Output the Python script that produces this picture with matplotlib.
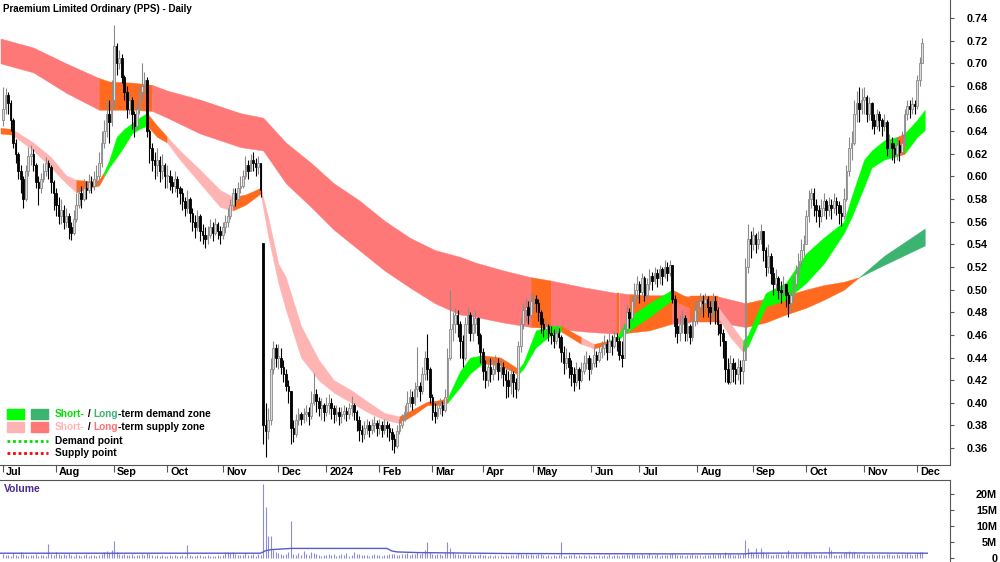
import numpy as np
import matplotlib
matplotlib.use("Agg")
import matplotlib.pyplot as plt
from matplotlib.patches import Rectangle
from matplotlib.lines import Line2D
from matplotlib.transforms import blended_transform_factory

plt.rcParams['font.family'] = ['Liberation Sans', 'DejaVu Sans']
plt.rcParams['font.weight'] = 'bold'

# month labels and number of trading days in each (Jul 2023 .. Dec 2024)
months = ['Jul', 'Aug', 'Sep', 'Oct', 'Nov', 'Dec', '2024', 'Feb', 'Mar', 'Apr',
          'May', 'Jun', 'Jul', 'Aug', 'Sep', 'Oct', 'Nov', 'Dec']
month_days = [21, 23, 21, 22, 22, 19, 21, 21, 20, 20, 23, 19, 23, 22, 21, 23, 21, 3]

# daily closes, one line per month
close = [
    0.660, 0.672, 0.665, 0.650, 0.630, 0.620, 0.605, 0.598, 0.580, 0.605, 0.618, 0.620, 0.610, 0.595, 0.590, 0.598, 0.605, 0.612, 0.608, 0.595, 0.585,
    0.575, 0.565, 0.570, 0.560, 0.565, 0.555, 0.550, 0.562, 0.575, 0.585, 0.580, 0.590, 0.588, 0.595, 0.592, 0.598, 0.600, 0.612, 0.630, 0.640, 0.655, 0.648, 0.668,
    0.715, 0.700, 0.705, 0.688, 0.675, 0.660, 0.668, 0.655, 0.645, 0.660, 0.675, 0.680, 0.685, 0.640, 0.625, 0.615, 0.610, 0.615, 0.605, 0.610, 0.600,
    0.600, 0.595, 0.592, 0.598, 0.590, 0.585, 0.578, 0.572, 0.580, 0.568, 0.560, 0.555, 0.565, 0.552, 0.548, 0.545, 0.548, 0.555, 0.550, 0.558, 0.552, 0.548,
    0.555, 0.560, 0.565, 0.575, 0.585, 0.580, 0.590, 0.592, 0.600, 0.610, 0.605, 0.615, 0.612, 0.608, 0.612, 0.588, 0.380, 0.375, 0.385, 0.430, 0.448, 0.440,
    0.440, 0.432, 0.425, 0.415, 0.410, 0.378, 0.372, 0.385, 0.390, 0.386, 0.390, 0.392, 0.388, 0.400, 0.408, 0.402, 0.395, 0.398, 0.392,
    0.398, 0.400, 0.395, 0.390, 0.392, 0.388, 0.390, 0.393, 0.390, 0.395, 0.398, 0.392, 0.385, 0.376, 0.372, 0.378, 0.380, 0.376, 0.380, 0.382, 0.378,
    0.380, 0.376, 0.380, 0.378, 0.374, 0.368, 0.362, 0.375, 0.380, 0.385, 0.392, 0.400, 0.405, 0.400, 0.412, 0.415, 0.410, 0.425, 0.440, 0.430, 0.405,
    0.392, 0.388, 0.395, 0.398, 0.394, 0.405, 0.440, 0.465, 0.470, 0.478, 0.470, 0.455, 0.440, 0.470, 0.478, 0.462, 0.470, 0.475, 0.460, 0.445,
    0.428, 0.420, 0.432, 0.425, 0.430, 0.435, 0.428, 0.432, 0.425, 0.420, 0.415, 0.425, 0.418, 0.412, 0.450, 0.470, 0.482, 0.485, 0.478, 0.490,
    0.492, 0.488, 0.480, 0.470, 0.465, 0.468, 0.462, 0.460, 0.455, 0.462, 0.458, 0.445, 0.435, 0.440, 0.432, 0.425, 0.418, 0.430, 0.420, 0.428, 0.435, 0.440, 0.430,
    0.435, 0.442, 0.438, 0.445, 0.448, 0.452, 0.445, 0.455, 0.450, 0.458, 0.455, 0.442, 0.440, 0.465, 0.480, 0.475, 0.490, 0.500, 0.505,
    0.498, 0.510, 0.495, 0.505, 0.512, 0.508, 0.515, 0.510, 0.518, 0.512, 0.520, 0.515, 0.522, 0.492, 0.468, 0.462, 0.470, 0.475, 0.462, 0.468, 0.458, 0.472, 0.482,
    0.485, 0.490, 0.488, 0.492, 0.485, 0.480, 0.490, 0.482, 0.470, 0.462, 0.455, 0.430, 0.418, 0.435, 0.430, 0.425, 0.432, 0.428, 0.438, 0.520, 0.545, 0.540,
    0.548, 0.540, 0.545, 0.552, 0.535, 0.520, 0.530, 0.515, 0.505, 0.510, 0.500, 0.498, 0.505, 0.495, 0.488, 0.495, 0.505, 0.515, 0.525, 0.535, 0.540,
    0.565, 0.580, 0.585, 0.575, 0.570, 0.565, 0.572, 0.578, 0.570, 0.575, 0.572, 0.578, 0.575, 0.568, 0.565, 0.580, 0.605, 0.625, 0.630, 0.655, 0.665, 0.660, 0.668,
    0.670, 0.655, 0.665, 0.650, 0.645, 0.655, 0.650, 0.645, 0.648, 0.625, 0.630, 0.625, 0.620, 0.628, 0.622, 0.630, 0.655, 0.662, 0.660, 0.664, 0.662,
    0.685, 0.700, 0.718,
]

high = [
    0.679, 0.678, 0.675, 0.668, 0.652, 0.633, 0.622, 0.610, 0.600, 0.610, 0.626, 0.628, 0.624, 0.612, 0.600, 0.603, 0.612, 0.617, 0.615, 0.610, 0.597,
    0.590, 0.582, 0.580, 0.575, 0.572, 0.568, 0.560, 0.570, 0.585, 0.592, 0.592, 0.598, 0.596, 0.602, 0.600, 0.605, 0.610, 0.622, 0.640, 0.650, 0.668, 0.668, 0.685,
    0.734, 0.718, 0.712, 0.708, 0.690, 0.680, 0.675, 0.670, 0.658, 0.666, 0.680, 0.700, 0.692, 0.688, 0.642, 0.630, 0.622, 0.625, 0.618, 0.620, 0.612,
    0.610, 0.606, 0.600, 0.605, 0.600, 0.592, 0.590, 0.582, 0.588, 0.582, 0.572, 0.566, 0.570, 0.567, 0.558, 0.555, 0.556, 0.562, 0.560, 0.563, 0.560, 0.556,
    0.560, 0.566, 0.572, 0.580, 0.590, 0.590, 0.595, 0.600, 0.606, 0.618, 0.615, 0.620, 0.622, 0.616, 0.618, 0.612, 0.541, 0.400, 0.395, 0.440, 0.455, 0.452,
    0.452, 0.448, 0.438, 0.430, 0.420, 0.405, 0.385, 0.390, 0.395, 0.392, 0.395, 0.398, 0.396, 0.410, 0.426, 0.412, 0.405, 0.404, 0.400,
    0.405, 0.408, 0.404, 0.398, 0.398, 0.396, 0.396, 0.398, 0.396, 0.400, 0.406, 0.400, 0.394, 0.388, 0.380, 0.384, 0.386, 0.384, 0.386, 0.388, 0.385,
    0.386, 0.384, 0.386, 0.384, 0.382, 0.378, 0.372, 0.380, 0.386, 0.390, 0.398, 0.410, 0.412, 0.410, 0.418, 0.449, 0.418, 0.432, 0.446, 0.461, 0.432,
    0.408, 0.400, 0.402, 0.404, 0.402, 0.412, 0.448, 0.500, 0.480, 0.484, 0.482, 0.472, 0.460, 0.476, 0.484, 0.480, 0.478, 0.482, 0.476, 0.462,
    0.448, 0.438, 0.440, 0.440, 0.438, 0.442, 0.440, 0.438, 0.436, 0.430, 0.428, 0.432, 0.428, 0.422, 0.455, 0.476, 0.488, 0.493, 0.490, 0.497,
    0.497, 0.495, 0.492, 0.482, 0.475, 0.474, 0.470, 0.468, 0.465, 0.468, 0.466, 0.460, 0.450, 0.448, 0.445, 0.438, 0.432, 0.436, 0.432, 0.436, 0.442, 0.446, 0.442,
    0.440, 0.448, 0.446, 0.450, 0.455, 0.460, 0.456, 0.462, 0.460, 0.463, 0.462, 0.458, 0.455, 0.470, 0.486, 0.484, 0.495, 0.506, 0.512,
    0.508, 0.515, 0.512, 0.510, 0.518, 0.516, 0.520, 0.518, 0.522, 0.520, 0.526, 0.524, 0.526, 0.522, 0.495, 0.475, 0.478, 0.482, 0.478, 0.475, 0.470, 0.478, 0.490,
    0.492, 0.497, 0.495, 0.497, 0.494, 0.490, 0.497, 0.494, 0.485, 0.470, 0.465, 0.455, 0.440, 0.442, 0.440, 0.436, 0.440, 0.438, 0.450, 0.528, 0.558, 0.552,
    0.555, 0.550, 0.552, 0.558, 0.552, 0.538, 0.540, 0.532, 0.520, 0.518, 0.512, 0.508, 0.512, 0.505, 0.498, 0.500, 0.512, 0.522, 0.532, 0.545, 0.548,
    0.570, 0.588, 0.590, 0.590, 0.580, 0.575, 0.580, 0.585, 0.580, 0.582, 0.580, 0.585, 0.582, 0.578, 0.575, 0.590, 0.610, 0.635, 0.640, 0.668, 0.676, 0.679, 0.678,
    0.679, 0.672, 0.670, 0.666, 0.655, 0.660, 0.658, 0.652, 0.655, 0.650, 0.638, 0.635, 0.630, 0.635, 0.632, 0.640, 0.660, 0.668, 0.668, 0.670, 0.668,
    0.690, 0.706, 0.722,
]

low = [
    0.645, 0.655, 0.655, 0.640, 0.625, 0.612, 0.598, 0.585, 0.572, 0.578, 0.600, 0.610, 0.605, 0.590, 0.575, 0.585, 0.595, 0.600, 0.598, 0.585, 0.570,
    0.565, 0.558, 0.558, 0.554, 0.555, 0.545, 0.544, 0.548, 0.560, 0.572, 0.572, 0.578, 0.580, 0.585, 0.585, 0.588, 0.592, 0.595, 0.608, 0.625, 0.635, 0.630, 0.645,
    0.660, 0.690, 0.695, 0.683, 0.668, 0.652, 0.655, 0.642, 0.635, 0.642, 0.655, 0.668, 0.672, 0.635, 0.612, 0.605, 0.598, 0.600, 0.595, 0.598, 0.590,
    0.590, 0.588, 0.585, 0.586, 0.582, 0.576, 0.570, 0.565, 0.568, 0.560, 0.552, 0.546, 0.552, 0.543, 0.540, 0.537, 0.540, 0.546, 0.543, 0.548, 0.545, 0.540,
    0.545, 0.550, 0.555, 0.562, 0.572, 0.574, 0.578, 0.585, 0.590, 0.598, 0.598, 0.605, 0.605, 0.600, 0.602, 0.582, 0.364, 0.352, 0.368, 0.380, 0.425, 0.432,
    0.430, 0.425, 0.418, 0.410, 0.400, 0.364, 0.365, 0.370, 0.380, 0.380, 0.382, 0.384, 0.380, 0.386, 0.398, 0.392, 0.388, 0.385, 0.384,
    0.388, 0.390, 0.386, 0.382, 0.384, 0.380, 0.382, 0.386, 0.384, 0.386, 0.388, 0.385, 0.375, 0.366, 0.365, 0.368, 0.372, 0.370, 0.372, 0.374, 0.371,
    0.372, 0.370, 0.372, 0.370, 0.366, 0.358, 0.356, 0.360, 0.372, 0.378, 0.384, 0.388, 0.396, 0.394, 0.398, 0.405, 0.402, 0.408, 0.420, 0.420, 0.400,
    0.385, 0.382, 0.386, 0.390, 0.388, 0.392, 0.405, 0.438, 0.455, 0.462, 0.458, 0.440, 0.432, 0.438, 0.462, 0.455, 0.455, 0.462, 0.452, 0.435,
    0.420, 0.413, 0.415, 0.418, 0.420, 0.425, 0.420, 0.422, 0.415, 0.404, 0.405, 0.408, 0.405, 0.404, 0.410, 0.445, 0.465, 0.472, 0.470, 0.475,
    0.482, 0.480, 0.472, 0.462, 0.458, 0.460, 0.455, 0.452, 0.448, 0.452, 0.448, 0.436, 0.425, 0.430, 0.422, 0.415, 0.410, 0.415, 0.412, 0.418, 0.425, 0.430, 0.420,
    0.425, 0.432, 0.432, 0.436, 0.440, 0.442, 0.438, 0.445, 0.442, 0.448, 0.446, 0.438, 0.432, 0.448, 0.462, 0.466, 0.472, 0.485, 0.492,
    0.488, 0.495, 0.490, 0.492, 0.500, 0.500, 0.505, 0.502, 0.505, 0.504, 0.510, 0.508, 0.512, 0.488, 0.458, 0.453, 0.455, 0.462, 0.455, 0.455, 0.452, 0.455, 0.468,
    0.470, 0.478, 0.476, 0.480, 0.476, 0.470, 0.475, 0.470, 0.460, 0.450, 0.440, 0.418, 0.417, 0.417, 0.418, 0.417, 0.420, 0.417, 0.417, 0.438, 0.515, 0.528,
    0.535, 0.532, 0.536, 0.540, 0.525, 0.512, 0.515, 0.505, 0.495, 0.498, 0.492, 0.488, 0.494, 0.485, 0.476, 0.480, 0.490, 0.502, 0.510, 0.520, 0.530,
    0.540, 0.560, 0.572, 0.565, 0.560, 0.555, 0.560, 0.565, 0.562, 0.565, 0.562, 0.568, 0.566, 0.558, 0.556, 0.562, 0.578, 0.600, 0.615, 0.628, 0.648, 0.648, 0.655,
    0.655, 0.648, 0.650, 0.642, 0.638, 0.642, 0.640, 0.636, 0.640, 0.618, 0.618, 0.615, 0.612, 0.615, 0.614, 0.620, 0.628, 0.650, 0.652, 0.655, 0.655,
    0.660, 0.680, 0.700,
]

first_open = 0.650
gap_open = {103: 0.541}   # the November 2023 gap-down day

# daily volume, millions
volume = [
    1.2, 0.8, 1.0, 0.6, 1.5, 0.9, 0.7, 1.8, 1.1, 0.8, 0.6, 1.0, 0.9, 1.2, 0.7, 0.8, 1.0, 0.6, 4.4, 1.3, 0.9,
    2.0, 1.1, 0.8, 1.3, 0.9, 1.6, 1.0, 0.7, 1.2, 0.8, 0.6, 0.9, 1.1, 0.7, 0.8, 1.0, 0.6, 0.9, 1.4, 1.8, 2.2, 1.5, 2.6,
    5.3, 2.0, 1.4, 1.0, 1.2, 0.8, 0.9, 1.1, 0.7, 0.8, 1.0, 1.3, 0.9, 1.6, 1.1, 0.8, 0.7, 0.9, 0.6, 0.8, 0.7,
    0.6, 0.8, 0.7, 0.9, 0.5, 0.7, 0.8, 0.6, 4.2, 0.9, 0.7, 0.6, 0.8, 1.0, 0.7, 0.6, 0.8, 0.5, 0.7, 0.6, 0.9, 0.7,
    0.8, 1.8, 2.0, 1.6, 2.0, 1.2, 0.9, 0.8, 1.0, 1.5, 0.9, 0.8, 1.2, 0.7, 1.3, 1.0, 23.0, 16.0, 7.0, 7.0, 2.5, 1.8,
    1.5, 1.2, 1.0, 1.4, 2.0, 11.6, 1.3, 1.0, 1.5, 0.9, 2.2, 1.1, 0.8, 1.8, 1.6, 1.2, 0.9, 0.7, 1.0,
    0.9, 1.2, 0.8, 1.1, 0.7, 0.9, 1.3, 0.8, 1.5, 0.7, 1.0, 2.0, 1.4, 1.1, 0.9, 0.8, 1.0, 0.7, 0.8, 1.1, 0.9,
    0.8, 0.7, 1.0, 0.9, 1.2, 1.4, 1.1, 1.0, 0.9, 1.3, 1.1, 1.5, 1.0, 1.2, 1.4, 2.0, 1.2, 1.6, 2.5, 5.0, 1.8,
    1.4, 1.0, 1.1, 1.2, 0.9, 1.5, 5.0, 3.0, 1.8, 1.4, 1.2, 1.0, 1.3, 1.1, 0.9, 1.2, 0.8, 1.0, 0.9, 1.1,
    0.9, 0.8, 0.7, 1.0, 0.6, 0.8, 0.7, 0.9, 0.6, 0.8, 0.7, 0.9, 1.0, 0.8, 1.6, 1.2, 1.0, 1.3, 0.9, 1.1,
    1.0, 0.8, 1.2, 1.2, 0.9, 0.7, 0.8, 0.6, 0.9, 0.7, 0.8, 5.0, 0.7, 0.6, 0.8, 0.9, 1.1, 0.7, 0.8, 0.6, 0.9, 0.7, 0.8,
    0.7, 0.8, 0.6, 0.9, 0.7, 0.8, 0.6, 1.2, 0.7, 0.8, 0.9, 0.6, 0.8, 1.0, 1.3, 0.9, 1.1, 1.4, 1.0,
    0.9, 1.2, 0.8, 1.0, 1.6, 0.9, 0.8, 1.1, 0.7, 0.9, 0.8, 1.0, 1.2, 1.5, 1.3, 1.0, 0.8, 0.9, 0.7, 0.8, 0.9, 1.1, 1.0,
    0.8, 0.9, 0.7, 1.0, 0.8, 0.9, 1.2, 0.8, 1.1, 1.3, 1.0, 1.8, 1.4, 1.2, 0.9, 1.0, 1.1, 0.8, 1.2, 5.5, 3.0, 2.0,
    1.5, 3.0, 1.4, 3.0, 1.8, 1.6, 1.1, 1.0, 0.9, 1.3, 1.1, 1.2, 1.0, 1.1, 2.5, 1.3, 1.2, 1.6, 1.1, 1.4, 1.5,
    2.0, 1.6, 1.3, 1.1, 0.9, 1.0, 1.2, 0.8, 0.9, 3.5, 2.5, 1.0, 0.9, 0.8, 1.1, 1.5, 1.8, 2.2, 1.6, 1.9, 1.4, 1.2, 1.0,
    1.3, 1.0, 0.9, 1.1, 0.8, 1.0, 1.2, 0.9, 1.0, 1.4, 1.1, 1.0, 0.9, 1.2, 0.8, 1.1, 1.3, 1.5, 1.2, 1.0, 1.4,
    1.5, 1.8, 2.0,
]

# volume average line (day index, millions)
vol_avg_day = [-1, 102, 103, 104, 106, 114, 152, 153, 154, 156, 164, 200, 260, 294, 296, 330, 366]
vol_avg = [1.5, 1.5, 1.9, 2.3, 2.6, 3.0, 3.0, 2.6, 2.2, 1.9, 1.7, 1.4, 1.3, 1.3, 1.5, 1.6, 1.5]

# short-term zone: day index, upper / lower edge, zone of the following stretch
short_day = [-1, 3.6, 12, 19, 25, 29, 34, 38, 40, 42, 45, 48, 51, 54, 57, 61, 65, 70, 78, 86,
             91, 96, 102, 105, 109, 112, 118, 125, 131, 138, 145, 151, 157, 163, 168, 172, 176, 181, 185, 190,
             197, 204, 206, 211, 217, 221, 229, 234, 240, 243, 248, 256, 265, 272, 278, 283, 288, 293, 295, 302,
             310, 318, 325, 333, 336, 341, 344, 349, 354, 357, 362, 365]
short_top = [0.643, 0.642, 0.630, 0.617, 0.601, 0.597, 0.596, 0.597, 0.604, 0.614, 0.635, 0.642, 0.647, 0.652, 0.656, 0.645, 0.635, 0.623, 0.606, 0.588,
             0.582, 0.584, 0.590, 0.564, 0.523, 0.511, 0.468, 0.438, 0.420, 0.411, 0.400, 0.391, 0.388, 0.395, 0.401, 0.402, 0.404, 0.428, 0.440, 0.442,
             0.440, 0.430, 0.435, 0.464, 0.468, 0.468, 0.458, 0.452, 0.455, 0.458, 0.476, 0.488, 0.500, 0.492, 0.488, 0.485, 0.470, 0.455, 0.460, 0.497,
             0.506, 0.532, 0.546, 0.560, 0.582, 0.615, 0.623, 0.632, 0.635, 0.638, 0.650, 0.659]
short_bot = [0.638, 0.637, 0.623, 0.608, 0.594, 0.586, 0.590, 0.592, 0.600, 0.608, 0.617, 0.627, 0.638, 0.642, 0.645, 0.635, 0.630, 0.615, 0.594, 0.573,
             0.570, 0.575, 0.585, 0.547, 0.506, 0.482, 0.440, 0.420, 0.409, 0.400, 0.391, 0.385, 0.382, 0.390, 0.398, 0.398, 0.400, 0.414, 0.426, 0.435,
             0.433, 0.425, 0.430, 0.449, 0.460, 0.463, 0.452, 0.448, 0.452, 0.455, 0.464, 0.476, 0.491, 0.484, 0.480, 0.476, 0.458, 0.445, 0.450, 0.485,
             0.491, 0.506, 0.523, 0.550, 0.564, 0.591, 0.608, 0.615, 0.618, 0.620, 0.635, 0.641]
short_zone = ['X', 'S', 'S', 'S', 'S', 'X', 'X', 'X', 'D', 'D', 'D', 'D', 'D', 'D', 'X', 'X', 'S', 'S', 'S', 'S',
              'X', 'X', 'S', 'S', 'S', 'S', 'S', 'S', 'S', 'S', 'S', 'S', 'X', 'X', 'X', 'X', 'D', 'D', 'D', 'X',
              'X', 'D', 'D', 'D', 'D', 'X', 'S', 'X', 'D', 'D', 'D', 'D', 'X', 'X', 'X', 'S', 'S', 'D', 'D', 'D',
              'D', 'D', 'D', 'D', 'D', 'D', 'D', 'D', 'X', 'D', 'D']

# long-term zone
long_day = [-1, 12, 25, 38, 42, 51, 59, 65, 78, 94, 103, 112, 122, 131, 141, 151, 161, 171, 181, 187,
            198, 209, 217, 230, 243, 244, 248, 256, 265, 272, 283, 294, 302, 310, 318, 325, 333, 339, 349, 365]
long_top = [0.722, 0.714, 0.700, 0.687, 0.684, 0.683, 0.681, 0.676, 0.668, 0.656, 0.652, 0.630, 0.612, 0.594, 0.579, 0.561, 0.546, 0.535, 0.529, 0.524,
            0.517, 0.511, 0.508, 0.502, 0.497, 0.497, 0.496, 0.495, 0.495, 0.494, 0.494, 0.488, 0.492, 0.495, 0.500, 0.504, 0.507, 0.511, 0.530, 0.554]
long_bot = [0.700, 0.692, 0.674, 0.659, 0.659, 0.659, 0.658, 0.652, 0.638, 0.626, 0.623, 0.594, 0.573, 0.553, 0.535, 0.517, 0.502, 0.488, 0.478, 0.476,
            0.471, 0.467, 0.466, 0.463, 0.461, 0.461, 0.462, 0.464, 0.470, 0.471, 0.471, 0.467, 0.471, 0.478, 0.484, 0.491, 0.500, 0.511, 0.522, 0.539]
long_zone = ['S', 'S', 'S', 'X', 'X', 'X', 'S', 'S', 'S', 'S', 'S', 'S', 'S', 'S', 'S', 'S', 'S', 'S', 'S', 'S',
             'S', 'X', 'S', 'S', 'X', 'S', 'X', 'X', 'S', 'X', 'S', 'X', 'X', 'X', 'X', 'X', 'X', 'D', 'D']

short_colors = {'D': '#00ff00', 'S': '#ffb4b4', 'X': '#ff6a1f'}
long_colors = {'D': '#3cb371', 'S': '#ff7878', 'X': '#ff6a1f'}

n = len(close)
assert len(high) == n and len(low) == n and len(volume) == n == sum(month_days)
assert len(short_zone) == len(short_day) - 1 and len(long_zone) == len(long_day) - 1

close = np.array(close)
x = np.arange(n)
opens = np.r_[first_open, close[:-1]]
for k, v in gap_open.items():
    opens[k] = v
hi = np.maximum(np.array(high), np.maximum(opens, close))
lo = np.minimum(np.array(low), np.minimum(opens, close))
up = close >= opens
month_start = np.r_[0, np.cumsum(month_days)[:-1]]

W, H = 1000, 562
fig = plt.figure(figsize=(10, 5.62), dpi=100)
ax = fig.add_axes([0, 97 / H, 950 / W, 465 / H])
axv = fig.add_axes([0, 0, 950 / W, 82 / H])

xlim = (-1.2, 375.0)

# zones: one polygon per run of the same state
def draw_zone(days, top, bot, zone, colors):
    i = 0
    while i < len(zone):
        j = i
        while j + 1 < len(zone) and zone[j + 1] == zone[i]:
            j += 1
        c = colors[zone[i]]
        ax.fill_between(days[i:j + 2], bot[i:j + 2], top[i:j + 2], color=c,
                        lw=0.3, edgecolor=c, zorder=1)
        i = j + 1

draw_zone(long_day, long_top, long_bot, long_zone, long_colors)
draw_zone(short_day, short_top, short_bot, short_zone, short_colors)

# candles
ax.vlines(x[up], lo[up], hi[up], color='#8a8a8a', lw=0.8, zorder=3)
ax.vlines(x[~up], lo[~up], hi[~up], color='black', lw=0.8, zorder=3)
body_lo = np.minimum(opens, close)
body_h = np.maximum(np.abs(close - opens), 0.001)
ax.bar(x[up], body_h[up], bottom=body_lo[up], width=0.65, color='#dcdcdc',
       edgecolor='#8a8a8a', linewidth=0.6, zorder=4)
ax.bar(x[~up], body_h[~up], bottom=body_lo[~up], width=0.65, color='black',
       edgecolor='black', linewidth=0.6, zorder=4)

ax.set_xlim(*xlim)
ax.set_ylim(0.345, 0.756)
for s in ['left', 'top']:
    ax.spines[s].set_visible(False)
for s in ['right', 'bottom']:
    ax.spines[s].set_color('#555555')
    ax.spines[s].set_linewidth(0.8)

ax.yaxis.tick_right()
yt = np.round(np.arange(0.36, 0.745, 0.02), 2)
ax.set_yticks(yt)
ax.set_yticklabels([f'{v:.2f}' for v in yt], fontsize=7.8, fontweight='bold')
ax.tick_params(axis='y', direction='out', length=3, pad=9, color='#555555')

ax.set_xticks(month_start)
ax.set_xticklabels([])
ax.tick_params(axis='x', direction='out', length=5, color='#555555')
trans = blended_transform_factory(ax.transData, ax.transAxes)
for ms, lbl in zip(month_start, months):
    ax.text(ms + 1.2, -0.016, lbl, transform=trans, ha='left', va='center',
            fontsize=7.8, fontweight='bold')

# volume panel
axv.vlines(x, 0, volume, color='#8c8cdc', lw=0.8, zorder=2)
axv.plot(vol_avg_day, vol_avg, color='#5a5ac8', lw=1.0, zorder=3)
axv.set_xlim(*xlim)
axv.set_ylim(-1.25, 24.4)
for s in ['left', 'bottom']:
    axv.spines[s].set_visible(False)
for s in ['right', 'top']:
    axv.spines[s].set_color('#555555')
    axv.spines[s].set_linewidth(0.8)
axv.set_xticks([])
axv.yaxis.tick_right()
axv.set_yticks([0, 5, 10, 15, 20])
axv.set_yticklabels(['0', '5M', '10M', '15M', '20M'], fontsize=7.8, fontweight='bold')
axv.tick_params(axis='y', direction='out', length=3, pad=31, color='#555555')
for t in axv.get_yticklabels():
    t.set_horizontalalignment('right')

# title and labels
fig.text(3 / W, 1 - 9 / H, 'Praemium Limited Ordinary (PPS) - Daily', fontsize=7.0,
         fontweight='bold', va='center', ha='left')
fig.text(4 / W, 1 - 489 / H, 'Volume', fontsize=7.5, fontweight='bold',
         color='#4b2a8c', va='center', ha='left')

# legend
renderer = fig.canvas.get_renderer()

def parts_text(parts, px, py):
    xx = px / W
    for txt, col in parts:
        t = fig.text(xx, 1 - py / H, txt, color=col, fontsize=7.3, fontweight='bold',
                     va='center', ha='left')
        xx += t.get_window_extent(renderer).width / W

for (px, py, c) in [(7, 414, '#00ff00'), (31, 414, '#3cb371'),
                    (7, 427, '#ffb4b4'), (31, 427, '#ff7878')]:
    fig.add_artist(Rectangle((px / W, 1 - (py + 5) / H), 17 / W, 10 / H,
                             transform=fig.transFigure, color=c))
parts_text([('Short-', '#00e000'), ('\u00a0/\u00a0', 'black'), ('Long', '#3cb371'),
            ('-term demand zone', 'black')], 55, 414)
parts_text([('Short-', '#ffb4b4'), ('\u00a0/\u00a0', 'black'), ('Long', '#ff7070'),
            ('-term supply zone', 'black')], 55, 427)
fig.add_artist(Line2D([7 / W, 48 / W], [1 - 441 / H] * 2, transform=fig.transFigure,
                      color='#00dd00', lw=2, linestyle=(0, (1, 1))))
fig.add_artist(Line2D([7 / W, 48 / W], [1 - 453 / H] * 2, transform=fig.transFigure,
                      color='#ff0000', lw=2, linestyle=(0, (1, 1))))
parts_text([('Demand point', 'black')], 55, 441)
parts_text([('Supply point', 'black')], 55, 453)

fig.savefig('out.png', dpi=100)
